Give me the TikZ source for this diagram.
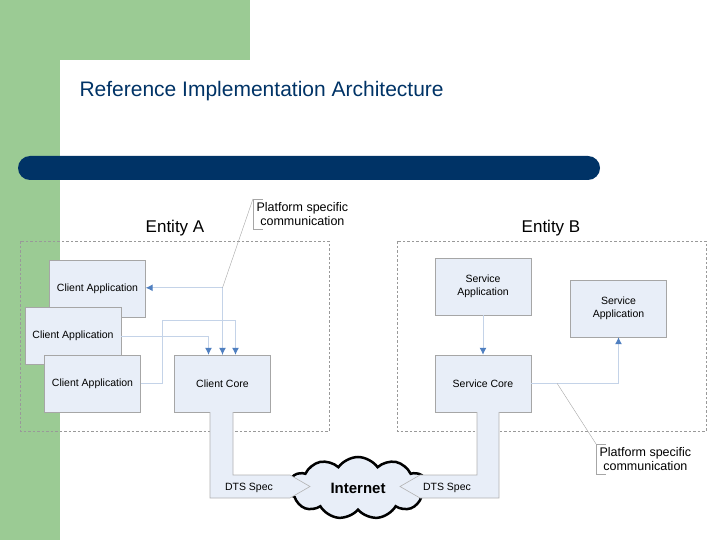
\documentclass[tikz,border=0pt]{standalone}
\usepackage{fontspec}
\setmainfont{Liberation Sans}
\usetikzlibrary{calc,positioning,shapes.symbols,arrows.meta}
\definecolor{slidegreen}{HTML}{9BCB94}
\definecolor{navy}{HTML}{003366}
\definecolor{boxfill}{HTML}{E8EEF8}
\definecolor{linkblue}{HTML}{C4D3E8}
\definecolor{headblue}{HTML}{4F7FC0}
\begin{document}
\begin{tikzpicture}[x=1pt,y=-1pt]
\tikzset{comp/.style={shape=rectangle,draw=gray!70,fill=boxfill,minimum width=96pt,minimum height=57pt,font=\fontsize{10.5}{12.5}\selectfont,align=center}}
\tikzset{entity/.style={draw=gray!80,dash pattern=on 2.5pt off 2pt}}
\tikzset{link/.style={draw=linkblue,line width=1pt,-{Latex[length=7pt,width=7pt,color=headblue]}}}
\tikzset{note/.style={align=center,font=\fontsize{12.5}{14}\selectfont}}
\tikzset{pipe/.style={fill=boxfill,draw=gray!60,line width=0.6pt}}
\useasboundingbox (0,0) rectangle (720,540);
% slide background
\fill[slidegreen] (0,0) rectangle (250,60);
\fill[slidegreen] (0,0) rectangle (60,540);
\fill[white] (60,540) -- (60,75) arc[start angle=180,end angle=90,radius=15] -- (250,60) -- (250,540) -- cycle;
\node[anchor=west,text=navy,font=\fontsize{21}{24}\selectfont] (title) at (76,91) {Reference Implementation Architecture};
\fill[navy,rounded corners=12pt] (18,156) rectangle (600,180);
%
\draw[entity] (20,241) rectangle (329,431);
\draw[entity] (397,241) rectangle (706,431);
\node[font=\fontsize{17}{19}\selectfont] (entA) at (175,228) {Entity A};
\node[font=\fontsize{17}{19}\selectfont] (entB) at (551,228) {Entity B};
%
\node[comp] (app1) at (97.5,288.5) {Client Application};
\node[comp] (app2) at (73,336) {Client Application};
\node[comp] (app3) at (92.5,383.5) {Client Application};
\node[comp] (core) at (222.5,383.5) {Client Core};
\node[comp] (sapp1) at (483,286.5) {Service\\Application};
\node[comp] (sapp2) at (618.5,308.5) {Service\\Application};
\node[comp] (score) at (483,383.5) {Service Core};
%
\draw[link] (core.north) -- ++(0,-67) coordinate (ca) -- (ca -| app1.east);
\draw[link] (ca) -- (core.north);
\draw[link] (app2.east) -- ($(app2.east -| core.north)+(-14,0)$) -- ($(core.north)+(-14,0)$);
\draw[link] (app3.east) -- ++(22,0) -- ++(0,-63) coordinate (cb) -- ($(cb -| core.north)+(13,0)$) -- ($(core.north)+(13,0)$);
\draw[link] (sapp1.south) -- (score.north);
\draw[link] (score.east) -- (score.east -| sapp2.south) -- (sapp2.south);
%
\node[note,anchor=west] (noteA) at (253,214) {Platform specific\\communication};
\draw[gray!70] ($(noteA.north west)+(10,0)$) -- (noteA.north west) -- (noteA.south west) -- ++(10,0);
\draw[gray!70] (noteA.north west) -- (ca);
\node[note,anchor=west] (noteB) at (596,459) {Platform specific\\communication};
\draw[gray!70] ($(noteB.north west)+(10,0)$) -- (noteB.north west) -- (noteB.south west) -- ++(10,0);
\draw[gray!70] (noteB.north west) -- ($(score.east)+(26,0)$);
%
\node[cloud,cloud puffs=11,cloud puff arc=110,aspect=2.3,draw=black,line width=2.5pt,fill=boxfill,minimum width=140pt,minimum height=62pt,font=\bfseries\fontsize{15}{17}\selectfont] (net) at (358,488) {Internet};
\draw[pipe] (210,412) -- (210,498) -- (290,498) -- (310,486.5) -- (290,475) -- (233,475) -- (233,412);
\draw[pipe] (499,412) -- (499,498) -- (420,498) -- (400,486.5) -- (420,475) -- (477,475) -- (477,412);
\node[font=\fontsize{10.5}{12.5}\selectfont] (dtsA) at (249,488) {DTS Spec};
\node[font=\fontsize{10.5}{12.5}\selectfont] (dtsB) at (447,488) {DTS Spec};
\end{tikzpicture}
\end{document}
